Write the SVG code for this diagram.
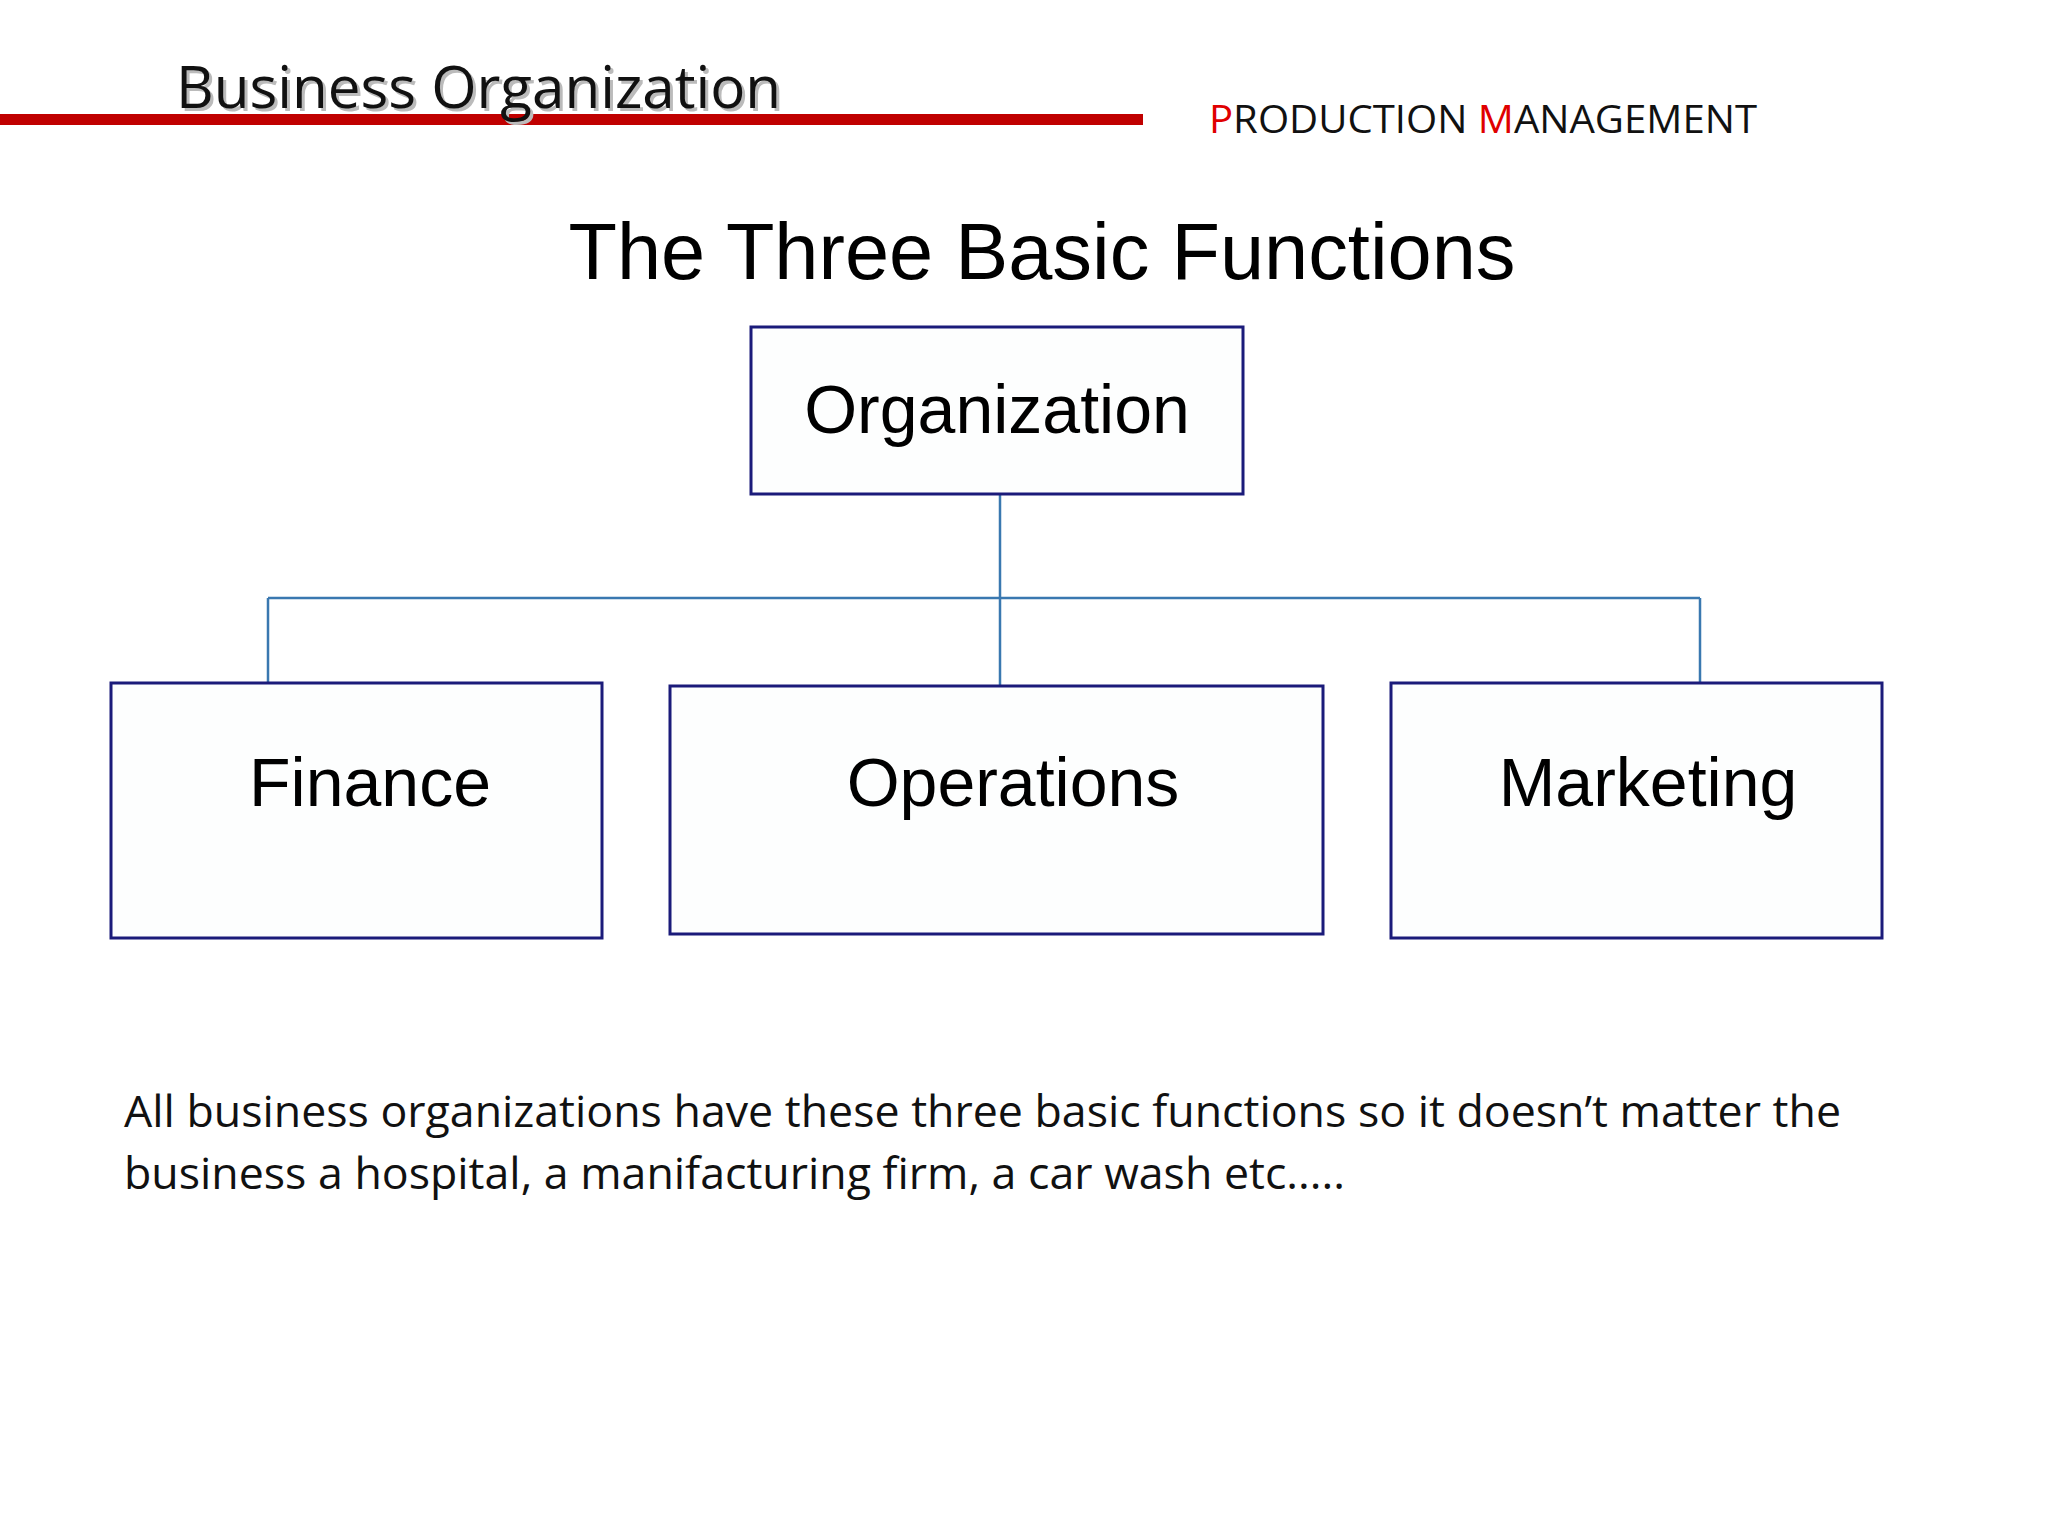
<svg xmlns="http://www.w3.org/2000/svg" width="2048" height="1536" viewBox="0 0 2048 1536">
<style>
.box{fill:#fdfefe;stroke:#1b1b7a;stroke-width:3}
.lbl{font-family:"Liberation Sans",Arial,sans-serif;font-size:68px;fill:#000;text-anchor:middle}
.con{stroke:#3a78b0;stroke-width:2.5;fill:none}
.cal{font-family:"Open Sans","Liberation Sans",sans-serif}
</style>
<rect width="2048" height="1536" fill="#ffffff"/>
<rect x="0" y="114" width="1143" height="11" fill="#c00000"/>
<text class="cal" x="179" y="111" font-size="58" fill="#bbbbbb" textLength="605" lengthAdjust="spacingAndGlyphs">Business Organization</text>
<text class="cal" x="176" y="108" font-size="58" fill="#111" textLength="605" lengthAdjust="spacingAndGlyphs">Business Organization</text>
<text class="cal" x="1209" y="133" font-size="39" fill="#111" textLength="548" lengthAdjust="spacingAndGlyphs"><tspan fill="#e00000">P</tspan>RODUCTION <tspan fill="#e00000">M</tspan>ANAGEMENT</text>
<text x="1042" y="279" font-family="'Liberation Sans',Arial,sans-serif" font-size="80" text-anchor="middle" textLength="947" lengthAdjust="spacingAndGlyphs">The Three Basic Functions</text>
<g id="connectors">
<path class="con" d="M1000 494V686M268 598H1700M268 598V682M1700 598V682"/>
</g>
<g id="organization"><rect class="box" x="751" y="327" width="492" height="167"/><text class="lbl" x="997" y="433">Organization</text></g>
<g id="finance"><rect class="box" x="111" y="683" width="491" height="255"/><text class="lbl" x="370" y="806">Finance</text></g>
<g id="operations"><rect class="box" x="670" y="686" width="653" height="248"/><text class="lbl" x="1013" y="806">Operations</text></g>
<g id="marketing"><rect class="box" x="1391" y="683" width="491" height="255"/><text class="lbl" x="1648" y="806">Marketing</text></g>
<text class="cal" x="124" y="1127" font-size="44" fill="#111" textLength="1717" lengthAdjust="spacingAndGlyphs">All business organizations have these three basic functions so it doesn’t matter the</text>
<text class="cal" x="124" y="1189" font-size="44" fill="#111" textLength="1221" lengthAdjust="spacingAndGlyphs">business a hospital, a manifacturing firm, a car wash etc.....</text>
</svg>
